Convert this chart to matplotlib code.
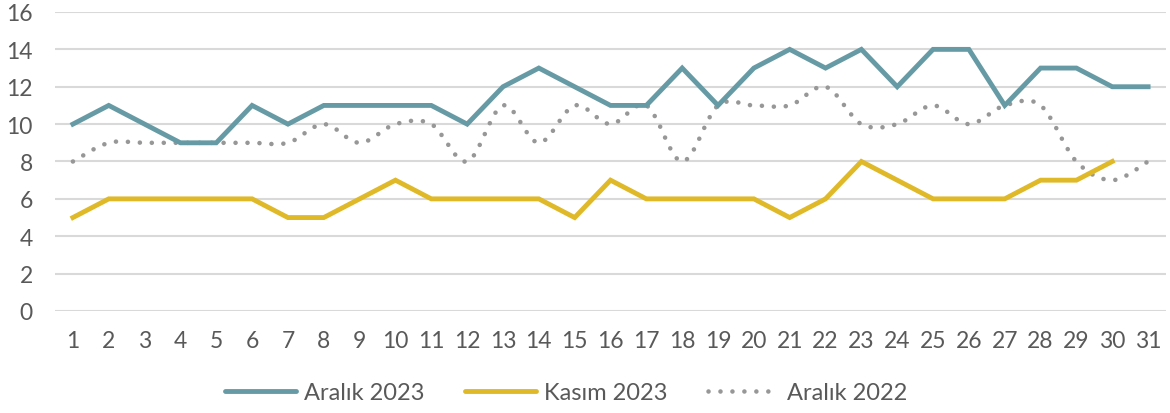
import numpy as np
import matplotlib
matplotlib.use("Agg")
import matplotlib.pyplot as plt
from matplotlib.path import Path
from matplotlib.patches import PathPatch
from matplotlib.lines import Line2D

plt.rcParams['font.family'] = ['Lato', 'DejaVu Sans']

days = list(range(1, 32))
aralik_2023 = [10, 11, 10, 9, 9, 11, 10, 11, 11, 11, 11, 10, 12, 13, 12, 11,
               11, 13, 11, 13, 14, 13, 14, 12, 14, 14, 11, 13, 13, 12, 12]
kasim_2023 = [5, 6, 6, 6, 6, 6, 5, 5, 6, 7, 6, 6, 6, 6, 5, 7,
              6, 6, 6, 6, 5, 6, 8, 7, 6, 6, 6, 7, 7, 8]
aralik_2022 = [8, 9, 9, 9, 9, 9, 9, 10, 9, 10, 10, 8, 11, 9, 11, 10,
               11, 8, 11, 11, 11, 12, 10, 10, 11, 10, 11, 11, 8, 7, 8]
yticks = list(range(0, 17, 2))

teal = '#669ba5'
gold = '#e0b928'
grey = '#979797'
text_c = '#595959'
dots = (0, (0.01, 2.6))


def smooth_path(x, y):
    # Excel-style smoothed line: cubic bezier through every point
    pts = np.column_stack([x, y]).astype(float)
    verts = [pts[0]]
    codes = [Path.MOVETO]
    n = len(pts)
    for i in range(n - 1):
        p0 = pts[max(i - 1, 0)]
        p1 = pts[i]
        p2 = pts[i + 1]
        p3 = pts[min(i + 2, n - 1)]
        verts += [p1 + (p2 - p0) / 6, p2 - (p3 - p1) / 6, p2]
        codes += [Path.CURVE4] * 3
    return Path(verts, codes)


fig = plt.figure(figsize=(11.7, 4.14), dpi=100)
ax = fig.add_axes([0.047, 0.2464, 0.9496, 0.7222])

ax.set_ylim(0, 16)
ax.set_xlim(0.5, 31.5)
ax.set_yticks(yticks)
ax.set_xticks(days)
ax.grid(axis='y', color='#d9d9d9', linewidth=1.5)
ax.set_axisbelow(True)
for s in ax.spines.values():
    s.set_visible(False)
ax.tick_params(length=0, labelsize=16.5, labelcolor=text_c)
ax.tick_params(axis='x', pad=14)
ax.tick_params(axis='y', pad=16)

ax.plot(days, aralik_2023, color=teal, lw=3.5, solid_joinstyle='miter', zorder=3)
ax.plot(days[:len(kasim_2023)], kasim_2023, color=gold, lw=3.5,
        solid_joinstyle='miter', zorder=3)
patch = PathPatch(smooth_path(days, aralik_2022), facecolor='none',
                  edgecolor=grey, lw=3.3, linestyle=dots,
                  capstyle='round', zorder=2)
ax.add_patch(patch)

handles = [
    Line2D([], [], color=teal, lw=3.5, solid_capstyle='round'),
    Line2D([], [], color=gold, lw=3.5, solid_capstyle='round'),
    Line2D([], [], color=grey, lw=3.3, linestyle=dots, dash_capstyle='round'),
]
labels = ['Aralık 2023', 'Kasım 2023', 'Aralık 2022']
fig.legend(handles, labels, loc='center', bbox_to_anchor=(0.484, 0.05),
           ncol=3, frameon=False, fontsize=17, labelcolor=text_c,
           handlelength=3.0, handletextpad=0.35, columnspacing=1.7)

fig.savefig('out.png', dpi=100)
